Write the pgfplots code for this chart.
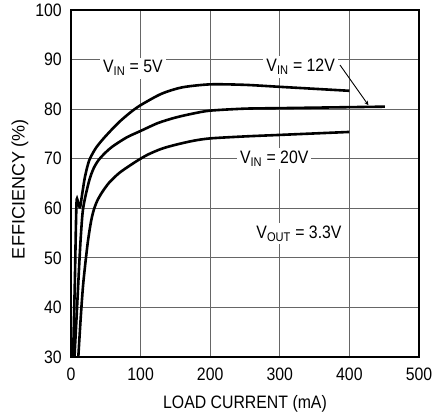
\documentclass[border=0pt]{standalone}
\usepackage{fontspec}
\setmainfont[FakeStretch=0.88]{Liberation Sans}
\newfontfamily\widefont{Liberation Sans}
\usepackage{pgfplots}
\pgfplotsset{compat=1.18}
\begin{document}
\fontsize{18}{21}\selectfont
\begin{tikzpicture}
\begin{axis}[
  scale only axis,
  width=348pt, height=347pt,
  xmin=0, xmax=500, ymin=30, ymax=100,
  xtick={0,100,...,500}, ytick={30,40,...,100},
  major tick length=0pt,
  grid=major,
  grid style={draw=black!60, line width=1.1pt},
  axis line style={line width=1.5pt},
  /pgf/number format/assume math mode=true,
  ticklabel style={font=\fontsize{18}{21}\selectfont},
  yticklabel style={inner sep=0pt, anchor=east, xshift=-9pt},
  xticklabel style={inner sep=0pt, anchor=north, yshift=-11pt},
  xlabel={LOAD CURRENT (mA)},
  ylabel={\widefont EFFICIENCY (\%)},
  xlabel style={at={(axis description cs:0.5,0)}, anchor=north, inner sep=0pt, yshift=-38pt, font=\fontsize{18}{21}\selectfont},
  ylabel style={at={(axis description cs:0,0.5)}, anchor=center, inner sep=0pt, yshift=51pt, xshift=-5.5pt, font=\fontsize{18}{21}\selectfont},
]
\coordinate (O) at (rel axis cs:0,0);
% VIN = 5V
\addplot[black, no markers, line width=2.6pt, smooth, tension=0.45] coordinates {
(3,30) (5.5,45) (7,56) (8.2,61.8) (10.5,61) (13,60.2) (16,62.8) (20,66.3) (26,69.6) (35,72) (45,73.8) (58,75.8) (70,77.5) (85,79.3) (100,80.8) (130,83.1) (160,84.4) (200,85) (250,84.9) (300,84.5) (350,84.1) (400,83.7)
};
% VIN = 12V
\addplot[black, no markers, line width=2.6pt, smooth, tension=0.45] coordinates {
(5,30) (8,38) (10.5,45) (13.5,53) (16.8,59.3) (21,62.6) (27,66) (33,68.2) (40,69.8) (50,71.3) (60,72.5) (80,74.3) (100,75.6) (125,77.2) (150,78.3) (175,79.1) (200,79.7) (250,80.1) (300,80.2) (350,80.3) (400,80.4) (451,80.5)
};
% VIN = 20V
\addplot[black, no markers, line width=2.6pt, smooth, tension=0.45] coordinates {
(10.5,30) (14,38) (17.7,45) (24,53) (29,57.5) (33,59.8) (38,61.6) (45,63.3) (55,65.2) (70,67.2) (93,69.4) (110,70.8) (130,72) (150,72.8) (175,73.6) (200,74.1) (250,74.5) (300,74.8) (350,75.1) (400,75.4)
};
\node[fill=white, anchor=base, inner sep=3pt] at (axis cs:89,87.3) {V\textsubscript{IN} = 5V};
\node[fill=white, anchor=base, inner sep=3pt] at (axis cs:330,87.5) {V\textsubscript{IN} = 12V};
\node[fill=white, anchor=base, inner sep=3pt] at (axis cs:292,69.0) {V\textsubscript{IN} = 20V};
\node[fill=white, anchor=base, inner sep=3pt] at (axis cs:327.6,53.9) {V\textsubscript{OUT} = 3.3V};
\draw[-stealth, line width=0.9pt] (axis cs:386.5,88.9) -- (axis cs:427.3,80.8);
\end{axis}
\pgfresetboundingbox
\path (O) ++(-71pt,-60pt) rectangle ++(435pt,417pt);
\end{tikzpicture}
\end{document}
